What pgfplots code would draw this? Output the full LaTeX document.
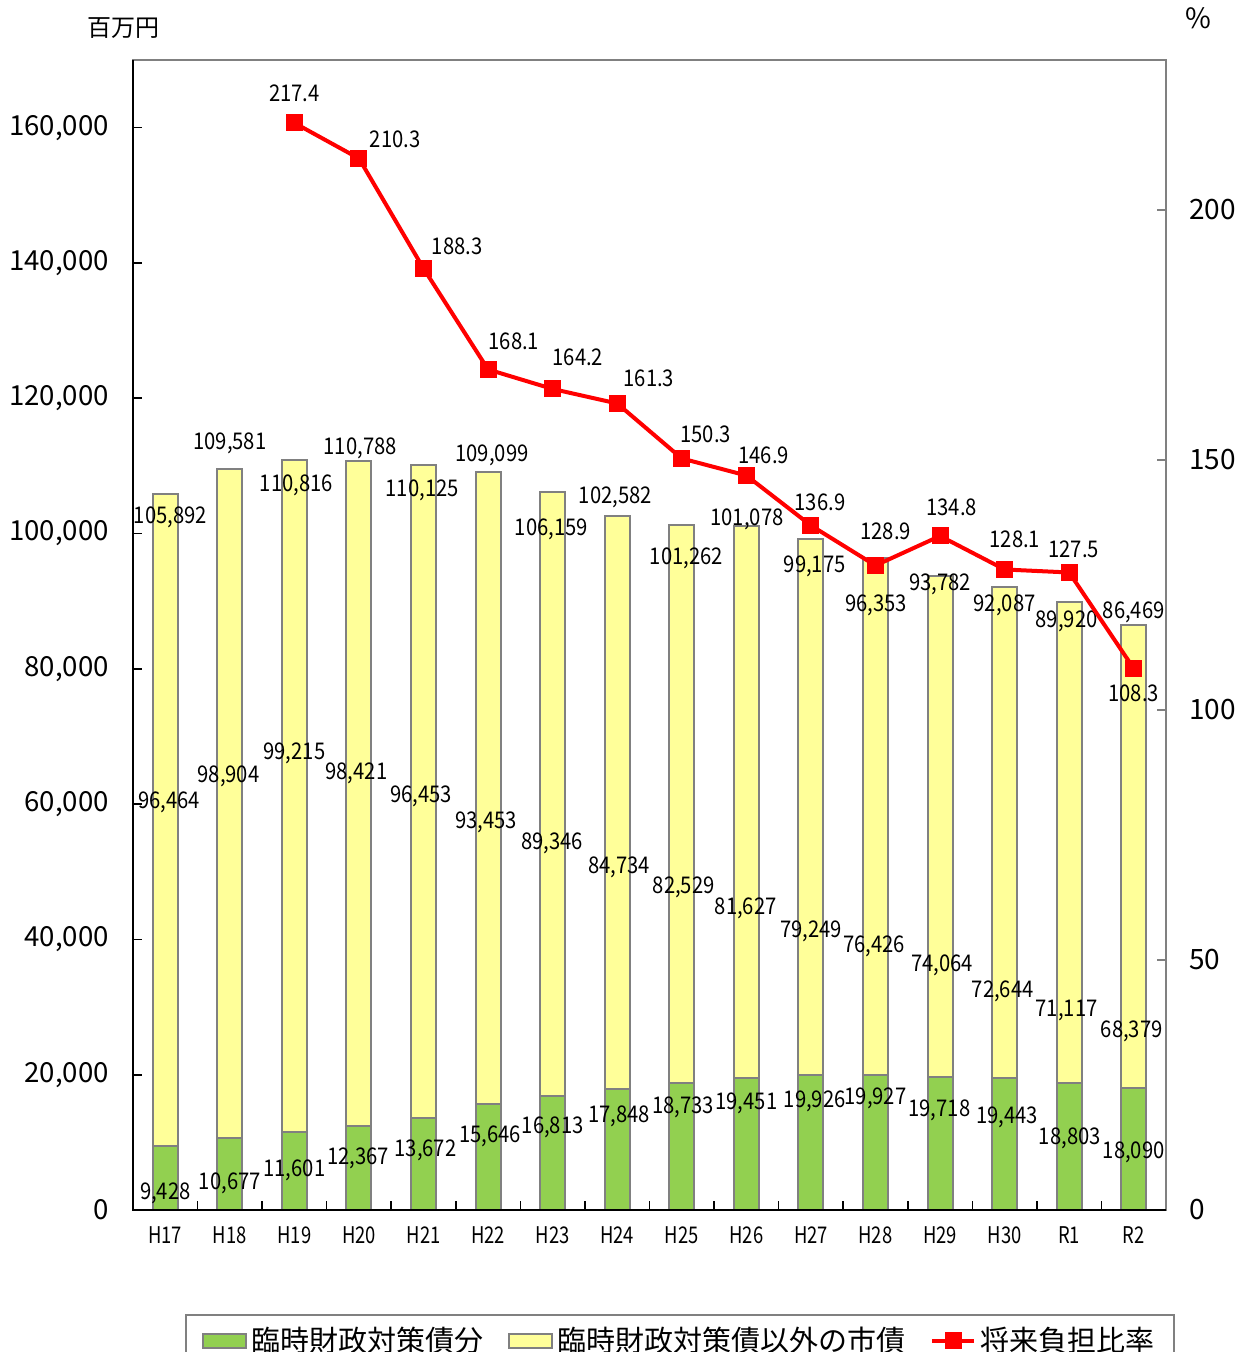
\documentclass[border=0pt]{standalone}
\usepackage{pgfplots}
\pgfplotsset{compat=1.18}
\usepackage{fontspec}
\setmainfont{Noto Sans CJK JP}
\newfontfamily\nfont[FakeStretch=0.88]{Noto Sans CJK JP}
\newfontfamily\xfont[FakeStretch=0.8]{Noto Sans CJK JP}
\definecolor{bgreen}{RGB}{146,208,80}
\definecolor{byellow}{RGB}{255,255,153}
\definecolor{bborder}{RGB}{128,128,128}
\tikzset{dl/.style={font=\nfont\fontsize{11.5}{12}\selectfont, inner sep=0pt}}
\pgfplotsset{
  barleg/.style={legend image code/.code={\draw[##1] (3pt,-3.5pt) rectangle (24.5pt,3.5pt);}},
  lineleg/.style={legend image code/.code={\draw[##1] (3pt,0pt) -- (24pt,0pt); \fill[red] (10.25pt,-3.25pt) rectangle (16.75pt,3.25pt);}},
}
\begin{document}
\begin{tikzpicture}
\useasboundingbox (-66.5pt,-71pt) rectangle (558.5pt,605pt);
\begin{axis}[
  at={(0pt,0pt)}, anchor=south west,
  scale only axis, width=516.5pt, height=575pt,
  xmin=-0.5, xmax=15.5, ymin=0, ymax=170000,
  ybar stacked, bar width=12.5pt,
  clip=false,
  axis line style={draw=bborder, line width=1pt},
  xtick={0,...,15},
  xticklabels={H17,H18,H19,H20,H21,H22,H23,H24,H25,H26,H27,H28,H29,H30,R1,R2},
  major x tick style={draw=none},
  minor xtick={-0.5,0.5,...,15.5},
  minor tick length=4.5pt,
  major tick length=4.5pt,
  x tick style={black, line width=0.8pt},
  y tick style={black, line width=0.8pt},
  tick align=inside,
  xtick pos=bottom,
  ytick={0,20000,...,160000}, ytick pos=left,
  scaled y ticks=false,
  /pgf/number format/fixed,
  /pgf/number format/1000 sep={,},
  /pgf/number format/assume math mode=true,
  yticklabel style={font=\fontsize{13.8}{14}\selectfont, xshift=-8.5pt},
  xticklabel style={font=\xfont\fontsize{11.5}{12}\selectfont, yshift=-5pt},
  legend style={at={(axis description cs:0.5296,-0.0904)}, anchor=north,
    draw=bborder, line width=1pt, font=\fontsize{14.5}{16}\selectfont,
    /tikz/every even column/.append style={column sep=10.5pt},
    inner xsep=8pt, inner ysep=4pt},
  legend columns=3,
]
\addplot[fill=bgreen, draw=bborder, line width=1pt, barleg]
  coordinates {(0,9428) (1,10677) (2,11601) (3,12367) (4,13672) (5,15646) (6,16813) (7,17848)
  (8,18733) (9,19451) (10,19926) (11,19927) (12,19718) (13,19443) (14,18803) (15,18090)};
\addlegendentry{臨時財政対策債分}
\addplot[fill=byellow, draw=bborder, line width=1pt, barleg]
  coordinates {(0,96464) (1,98904) (2,99215) (3,98421) (4,96453) (5,93453) (6,89346) (7,84734)
  (8,82529) (9,81627) (10,79249) (11,76426) (12,74064) (13,72644) (14,71117) (15,68379)};
\addlegendentry{臨時財政対策債以外の市債}
\addlegendimage{red, line width=2pt, lineleg}
\addlegendentry{将来負担比率}
\end{axis}
\begin{axis}[
  at={(0pt,0pt)}, anchor=south west,
  scale only axis, width=516.5pt, height=575pt,
  xmin=-0.5, xmax=15.5, ymin=0, ymax=230,
  clip=false,
  axis x line=none, axis y line*=right,
  axis line style={draw=bborder, line width=1pt},
  ytick={0,50,...,200},
  tick align=inside, major tick length=4.5pt,
  y tick style={bborder, line width=0.8pt},
  /pgf/number format/fixed,
  /pgf/number format/assume math mode=true,
  yticklabel style={font=\fontsize{14}{14}\selectfont, xshift=8pt},
]
\draw[black, line width=1pt] (rel axis cs:0,1) -- (rel axis cs:0,0) -- (rel axis cs:1,0);
% total labels (positions on the right-axis scale)
\node[dl] at (axis cs:0.08,138.45) {105,892};
\node[dl] at (axis cs:1.0,153.25) {109,581};
\node[dl] at (axis cs:2.03,144.85) {110,816};
\node[dl] at (axis cs:3.02,152.25) {110,788};
\node[dl] at (axis cs:3.98,143.85) {110,125};
\node[dl] at (axis cs:5.06,150.85) {109,099};
\node[dl] at (axis cs:5.98,136.04) {106,159};
\node[dl] at (axis cs:6.97,142.45) {102,582};
\node[dl] at (axis cs:8.07,130.25) {101,262};
\node[dl] at (axis cs:9.01,138.04) {101,078};
\node[dl] at (axis cs:10.06,128.64) {99,175};
\node[dl] at (axis cs:11.01,120.85) {96,353};
\node[dl] at (axis cs:12.0,125.04) {93,782};
\node[dl] at (axis cs:13.0,120.85) {92,087};
\node[dl] at (axis cs:13.96,117.64) {89,920};
\node[dl] at (axis cs:15.0,119.44) {86,469};
% yellow labels
\node[dl] at (axis cs:0.06,81.62) {96,464};
\node[dl] at (axis cs:0.98,86.83) {98,904};
\node[dl] at (axis cs:2.0,91.43) {99,215};
\node[dl] at (axis cs:2.96,87.43) {98,421};
\node[dl] at (axis cs:3.96,82.83) {96,453};
\node[dl] at (axis cs:4.97,77.63) {93,453};
\node[dl] at (axis cs:5.99,73.42) {89,346};
\node[dl] at (axis cs:7.03,68.62) {84,734};
\node[dl] at (axis cs:8.03,64.62) {82,529};
\node[dl] at (axis cs:8.99,60.42) {81,627};
\node[dl] at (axis cs:10.0,55.82) {79,249};
\node[dl] at (axis cs:10.98,52.82) {76,426};
\node[dl] at (axis cs:12.03,49.02) {74,064};
\node[dl] at (axis cs:12.97,43.81) {72,644};
\node[dl] at (axis cs:13.96,39.82) {71,117};
\node[dl] at (axis cs:14.97,35.81) {68,379};
% green labels
\node[dl] at (axis cs:0.0,3.40) {9,428};
\node[dl] at (axis cs:1.0,5.40) {10,677};
\node[dl] at (axis cs:2.0,8.00) {11,601};
\node[dl] at (axis cs:2.99,10.40) {12,367};
\node[dl] at (axis cs:4.03,12.00) {13,672};
\node[dl] at (axis cs:5.03,14.80) {15,646};
\node[dl] at (axis cs:6.0,16.61) {16,813};
\node[dl] at (axis cs:7.03,18.81) {17,848};
\node[dl] at (axis cs:8.02,20.61) {18,733};
\node[dl] at (axis cs:9.0,21.40) {19,451};
\node[dl] at (axis cs:10.06,21.81) {19,926};
\node[dl] at (axis cs:11.0,22.40) {19,927};
\node[dl] at (axis cs:11.99,20.01) {19,718};
\node[dl] at (axis cs:13.04,18.60) {19,443};
\node[dl] at (axis cs:14.01,14.41) {18,803};
\node[dl] at (axis cs:15.0,11.61) {18,090};
\addplot[red, line width=2pt, mark=square*, mark size=3.25pt]
  coordinates {(2,217.4) (3,210.3) (4,188.3) (5,168.1) (6,164.2) (7,161.3) (8,150.3)
  (9,146.9) (10,136.9) (11,128.9) (12,134.8) (13,128.1) (14,127.5) (15,108.3)};
\node[dl] at (axis cs:2.0,223.4) {217.4};
\node[dl] at (axis cs:3.56,214.2) {210.3};
\node[dl] at (axis cs:4.52,192.8) {188.3};
\node[dl] at (axis cs:5.40,173.8) {168.1};
\node[dl] at (axis cs:6.39,170.6) {164.2};
\node[dl] at (axis cs:7.49,166.4) {161.3};
\node[dl] at (axis cs:8.37,155.2) {150.3};
\node[dl] at (axis cs:9.27,151.0) {146.9};
\node[dl] at (axis cs:10.14,141.6) {136.9};
\node[dl] at (axis cs:11.16,135.8) {128.9};
\node[dl] at (axis cs:12.18,140.6) {134.8};
\node[dl] at (axis cs:13.16,134.2) {128.1};
\node[dl] at (axis cs:14.07,132.2) {127.5};
\node[dl] at (axis cs:15.0,103.4) {108.3};
\end{axis}
\node[font=\fontsize{12}{12}\selectfont] at (-5pt,591pt) {百万円};
\node[font=\fontsize{14}{14}\selectfont] at (532.5pt,596pt) {\%};
\end{tikzpicture}
\end{document}
